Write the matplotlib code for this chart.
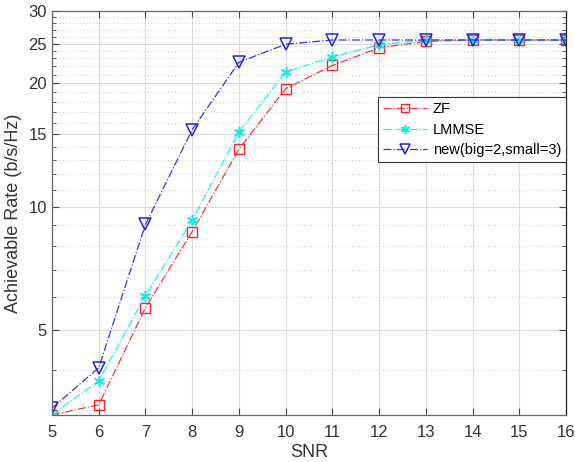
import numpy as np
import matplotlib
matplotlib.use("Agg")
import matplotlib.pyplot as plt
from matplotlib.ticker import FixedLocator, NullFormatter, FixedFormatter

plt.rcParams['font.family'] = ['Liberation Sans', 'DejaVu Sans']

snr = [5, 6, 7, 8, 9, 10, 11, 12, 13, 14, 15, 16]
zf = [3.1, 3.28, 5.66, 8.69, 13.8, 19.4, 22.1, 24.4, 25.3, 25.5, 25.5, 25.5]
lmmse = [3.1, 3.75, 6.06, 9.25, 15.2, 21.3, 23.2, 24.8, 25.5, 25.5, 25.5, 25.5]
new = [3.22, 4.04, 9.04, 15.4, 22.5, 24.9, 25.5, 25.5, 25.5, 25.5, 25.5, 25.5]

labels = ['ZF', 'LMMSE', 'new(big=2,small=3)']
yticks = [5, 10, 15, 20, 25, 30]
yminor = [m for m in range(4, 30) if m not in yticks]

fig = plt.figure(figsize=(5.75, 4.62), dpi=100)
ax = fig.add_axes([0.0904, 0.102, 0.894, 0.874])

ax.plot(snr, zf, '-.', color='#ff3333', lw=0.9, marker='s', ms=7,
        mfc='none', mec='#ff2222', mew=1.0, label=labels[0])
ax.plot(snr, lmmse, '-.', color='#22eeee', lw=0.9, marker=(6, 2, 0), ms=8,
        mec='#11e8e8', mew=1.1, label=labels[1])
ax.plot(snr, new, '-.', color='#3333ee', lw=0.9, marker='v', ms=9,
        mfc='none', mec='#2222dd', mew=1.1, label=labels[2])

ax.set_yscale('log')
ax.set_xlim(5, 16)
ax.set_ylim(3.1, 30)
ax.set_xticks(snr)
ax.yaxis.set_major_locator(FixedLocator(yticks))
ax.yaxis.set_major_formatter(FixedFormatter([str(t) for t in yticks]))
ax.yaxis.set_minor_locator(FixedLocator(yminor))
ax.yaxis.set_minor_formatter(NullFormatter())

ax.grid(True, which='major', color='#dddddd', lw=0.8, ls='-')
ax.grid(True, which='minor', axis='y', color='#c8c8c8', lw=0.7, ls=(0, (1, 2.5)))
ax.set_axisbelow(True)

ax.tick_params(which='both', direction='in', top=True, right=True,
               labelsize=12, colors='#444444', labelcolor='#333333')
ax.tick_params(which='major', length=5)
ax.tick_params(which='minor', length=3)
ax.tick_params(axis='x', pad=7)
for s in ax.spines.values():
    s.set_color('#666666')
    s.set_linewidth(0.9)
ax.spines['right'].set_color('#222222')

ax.set_xlabel('SNR', fontsize=13, color='#333333', labelpad=3)
ax.set_ylabel('Achievable Rate (b/s/Hz)', fontsize=13, color='#333333', labelpad=5)

leg = ax.legend(loc='upper right', bbox_to_anchor=(1.0, 0.787), borderaxespad=0,
                fontsize=10.5, fancybox=False, framealpha=1, edgecolor='#333333',
                handlelength=3.0, labelspacing=0.45, handletextpad=0.4,
                borderpad=0.35, markerscale=0.8)
leg.get_frame().set_linewidth(0.8)

fig.savefig('out.png', dpi=100)
